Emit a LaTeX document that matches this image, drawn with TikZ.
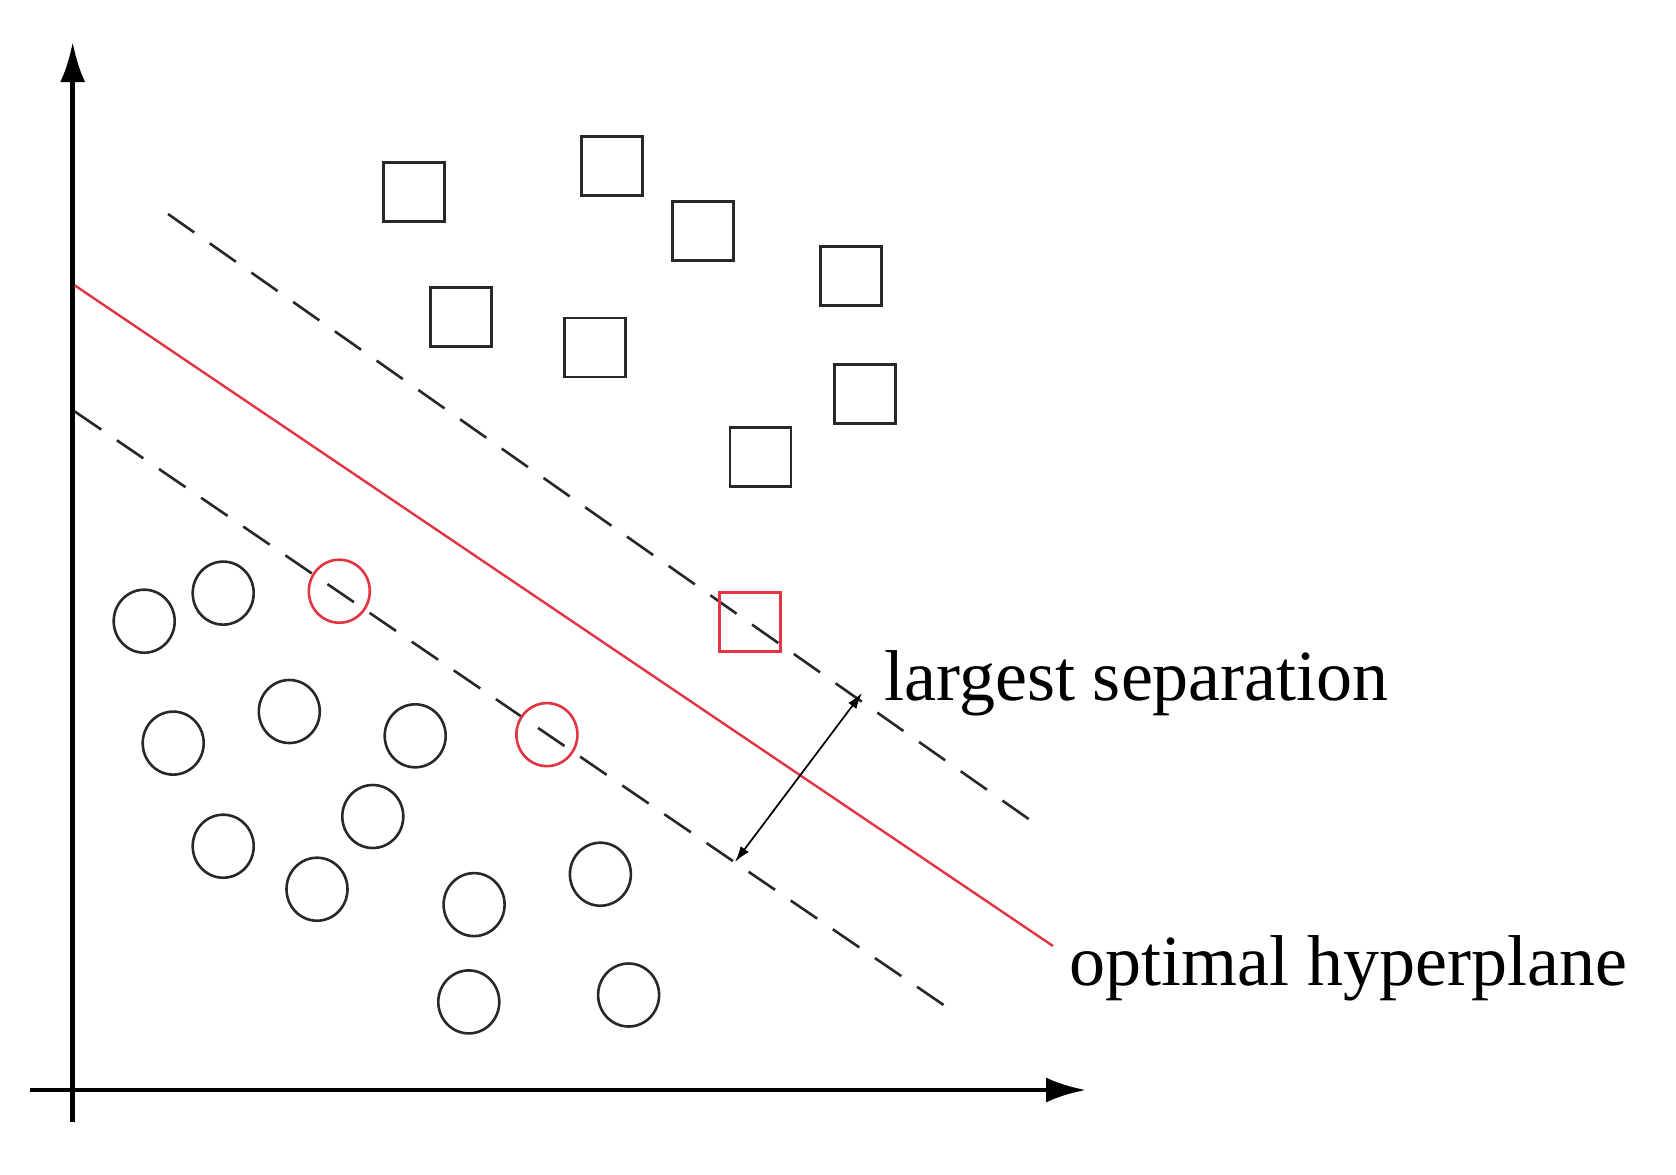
\documentclass[tikz,border=0pt]{standalone}
\usepackage{fontspec}
\setmainfont{Liberation Serif}
\usetikzlibrary{arrows.meta,shapes.geometric}
\definecolor{svmred}{RGB}{226,52,66}
\definecolor{ink}{RGB}{40,40,40}
\begin{document}
\begin{tikzpicture}[x=0.5pt,y=-0.5pt,
  sqbox/.style={rectangle,draw=ink,line width=1.45pt,minimum width=30.5pt,minimum height=29.5pt,inner sep=0pt},
  cibox/.style={ellipse,draw=ink,line width=1.3pt,minimum width=30.5pt,minimum height=31.5pt,inner sep=0pt},
  sv/.style={draw=svmred},
  axisline/.style={line width=2.3pt,-{Latex[length=20pt,width=12.5pt]}},
  marginline/.style={draw=ink,line width=1.3pt,dash pattern=on 16pt off 9.5pt},
  hyper/.style={draw=svmred,line width=1.2pt},
  sep/.style={line width=0.85pt,{Latex[length=8pt,width=5pt]}-{Latex[length=8pt,width=5pt]}},
  lbl/.style={inner sep=0pt,font=\fontsize{36pt}{40pt}\selectfont}]
\useasboundingbox (0,0) rectangle (1676,1174);
\fill[white] (0,0) rectangle (1676,1174);

% axes
\coordinate (ybot) at (72.7,1122);
\coordinate (ytop) at (72.7,42);
\coordinate (xl) at (30,1090);
\coordinate (xr) at (1086,1090);
\draw[axisline] (ybot) -- (ytop);
\draw[axisline] (xl) -- (xr);

% hyperplane and margins
\coordinate (h1) at (74.8,285.4);
\coordinate (h2) at (1053,946);
\coordinate (u1) at (168,214);
\coordinate (u2) at (1031.5,821);
\coordinate (l1) at (74.8,411.5);
\coordinate (l2) at (951,1010);
\draw[marginline] (u1) -- (u2);
\draw[marginline] (l1) -- (l2);
\draw[hyper] (h1) -- (h2);

% squares
\node[sqbox] (s1) at (413.7,192.4) {};
\node[sqbox] (s2) at (611.7,166.3) {};
\node[sqbox] (s3) at (703,231) {};
\node[sqbox] (s4) at (851,276) {};
\node[sqbox] (s5) at (460.7,317) {};
\node[sqbox] (s6) at (595,347.5) {};
\node[sqbox] (s7) at (865,394) {};
\node[sqbox] (s8) at (760.5,456.7) {};
\node[sqbox,sv] (s9) at (750.3,621.7) {};

% circles
\node[cibox] (c1) at (144.2,621.2) {};
\node[cibox] (c2) at (223.2,593.1) {};
\node[cibox,sv] (c3) at (339.3,591.2) {};
\node[cibox] (c4) at (289.3,711.5) {};
\node[cibox] (c5) at (173.2,743.1) {};
\node[cibox] (c6) at (415.2,735.8) {};
\node[cibox,sv] (c7) at (546.9,734.6) {};
\node[cibox] (c8) at (372.8,816.5) {};
\node[cibox] (c9) at (223.2,846.2) {};
\node[cibox] (c10) at (317,889.2) {};
\node[cibox] (c11) at (474.1,904.6) {};
\node[cibox] (c12) at (600.4,874.2) {};
\node[cibox] (c13) at (468.8,1001.9) {};
\node[cibox] (c14) at (628.6,995) {};

% separation arrow
\coordinate (m1) at (862,693);
\coordinate (m2) at (735,862);
\draw[sep] (m2) -- (m1);

% labels
\node[lbl,anchor=base west] (tsep) at (884,700) {largest separation};
\node[lbl,anchor=base west] (thyp) at (1069,985) {optimal hyperplane};
\end{tikzpicture}
\end{document}
